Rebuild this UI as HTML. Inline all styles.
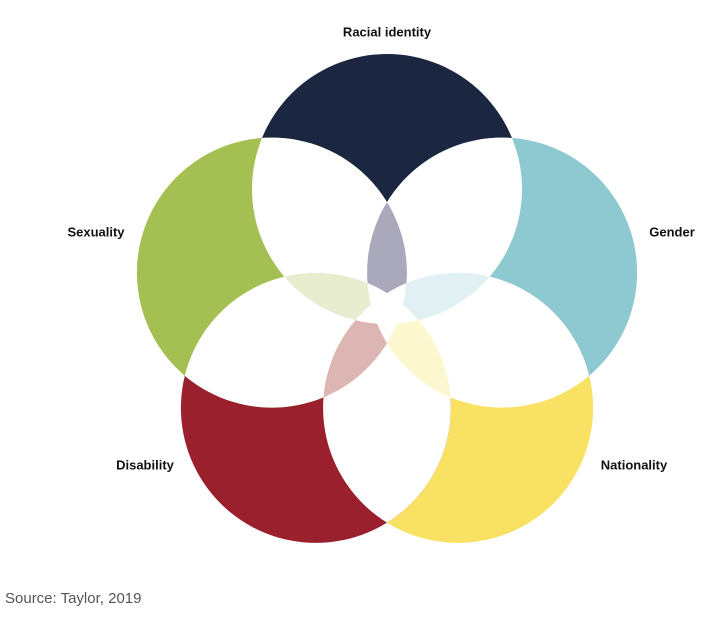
<!DOCTYPE html>
<html><head><meta charset="utf-8"><style>
html,body{margin:0;padding:0;background:#fff;}
body{width:720px;height:625px;overflow:hidden;position:relative;font-family:"Liberation Sans",sans-serif;}
.l{position:absolute;font-weight:bold;font-size:13px;color:#111;white-space:nowrap;transform:translate(-50%,-50%);}
.src{position:absolute;left:5px;top:590px;font-size:15px;color:#555;}
</style></head><body>
<svg width="720" height="625" style="position:absolute;left:0;top:0">
<defs>
<clipPath id="c0"><circle cx="387" cy="189" r="135"/></clipPath>
<clipPath id="c1"><circle cx="502.1" cy="272.6" r="135"/></clipPath>
<clipPath id="c2"><circle cx="458.1" cy="407.9" r="135"/></clipPath>
<clipPath id="c3"><circle cx="315.9" cy="407.9" r="135"/></clipPath>
<clipPath id="c4"><circle cx="271.9" cy="272.6" r="135"/></clipPath>
</defs>
<circle cx="387" cy="189" r="135" fill="#1b2741"/>
<circle cx="502.1" cy="272.6" r="135" fill="#8ec8d1"/>
<circle cx="458.1" cy="407.9" r="135" fill="#f9e164"/>
<circle cx="315.9" cy="407.9" r="135" fill="#9b202e"/>
<circle cx="271.9" cy="272.6" r="135" fill="#a5c052"/>
<g clip-path="url(#c1)"><circle cx="387" cy="189" r="135" fill="#fff"/></g>
<g clip-path="url(#c2)"><circle cx="502.1" cy="272.6" r="135" fill="#fff"/></g>
<g clip-path="url(#c3)"><circle cx="458.1" cy="407.9" r="135" fill="#fff"/></g>
<g clip-path="url(#c4)"><circle cx="315.9" cy="407.9" r="135" fill="#fff"/></g>
<g clip-path="url(#c0)"><circle cx="271.9" cy="272.6" r="135" fill="#fff"/></g>
<g clip-path="url(#c4)"><circle cx="502.1" cy="272.6" r="135" fill="#a9a9bb"/></g>
<g clip-path="url(#c0)"><circle cx="458.1" cy="407.9" r="135" fill="#e1f0f2"/></g>
<g clip-path="url(#c1)"><circle cx="315.9" cy="407.9" r="135" fill="#fdf7cf"/></g>
<g clip-path="url(#c2)"><circle cx="271.9" cy="272.6" r="135" fill="#ddb6b3"/></g>
<g clip-path="url(#c3)"><circle cx="387" cy="189" r="135" fill="#e8edd0"/></g>
<g clip-path="url(#c4)"><g clip-path="url(#c0)"><g clip-path="url(#c1)"><circle cx="458.1" cy="407.9" r="135" fill="#fff"/></g></g></g>
<g clip-path="url(#c0)"><g clip-path="url(#c1)"><g clip-path="url(#c2)"><circle cx="315.9" cy="407.9" r="135" fill="#fff"/></g></g></g>
<g clip-path="url(#c1)"><g clip-path="url(#c2)"><g clip-path="url(#c3)"><circle cx="271.9" cy="272.6" r="135" fill="#fff"/></g></g></g>
<g clip-path="url(#c2)"><g clip-path="url(#c3)"><g clip-path="url(#c4)"><circle cx="387" cy="189" r="135" fill="#fff"/></g></g></g>
<g clip-path="url(#c3)"><g clip-path="url(#c4)"><g clip-path="url(#c0)"><circle cx="502.1" cy="272.6" r="135" fill="#fff"/></g></g></g>
</svg>
<div class="l" style="left:387px;top:32px">Racial identity</div>
<div class="l" style="left:96px;top:232px">Sexuality</div>
<div class="l" style="left:672px;top:232px">Gender</div>
<div class="l" style="left:145px;top:465px">Disability</div>
<div class="l" style="left:634px;top:465px">Nationality</div>
<div class="src">Source: Taylor, 2019</div>
</body></html>
